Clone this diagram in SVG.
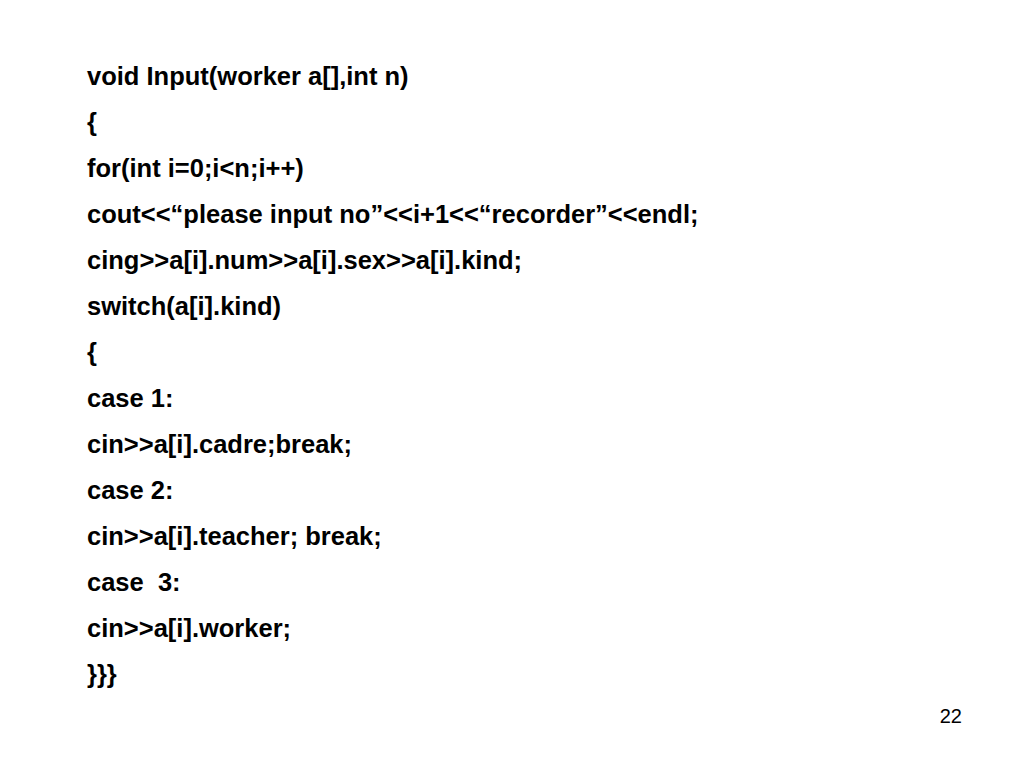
<svg xmlns="http://www.w3.org/2000/svg" width="1024" height="768" viewBox="0 0 1024 768">
<style>
.t{font-family:"Liberation Sans",Arial,sans-serif;font-weight:bold;font-size:25.5px;fill:#000}
.n{font-family:"Liberation Sans",Arial,sans-serif;font-size:20px;fill:#000}
</style>
<rect width="1024" height="768" fill="#fff"/>
<g id="code">
<text class="t" x="87" y="85">void Input(worker a[],int n)</text>
<text class="t" x="87" y="131">{</text>
<text class="t" x="87" y="177">for(int i=0;i&lt;n;i++)</text>
<text class="t" x="87" y="223">cout&lt;&lt;“please input no”&lt;&lt;i+1&lt;&lt;“recorder”&lt;&lt;endl;</text>
<text class="t" x="87" y="269">cing&gt;&gt;a[i].num&gt;&gt;a[i].sex&gt;&gt;a[i].kind;</text>
<text class="t" x="87" y="315">switch(a[i].kind)</text>
<text class="t" x="87" y="361">{</text>
<text class="t" x="87" y="407">case 1:</text>
<text class="t" x="87" y="453">cin&gt;&gt;a[i].cadre;break;</text>
<text class="t" x="87" y="499">case 2:</text>
<text class="t" x="87" y="545">cin&gt;&gt;a[i].teacher; break;</text>
<text class="t" x="87" y="591" xml:space="preserve">case  3:</text>
<text class="t" x="87" y="637">cin&gt;&gt;a[i].worker;</text>
<text class="t" x="87" y="683">}}}</text>
</g>
<text class="n" x="962" y="723" text-anchor="end">22</text>
</svg>
